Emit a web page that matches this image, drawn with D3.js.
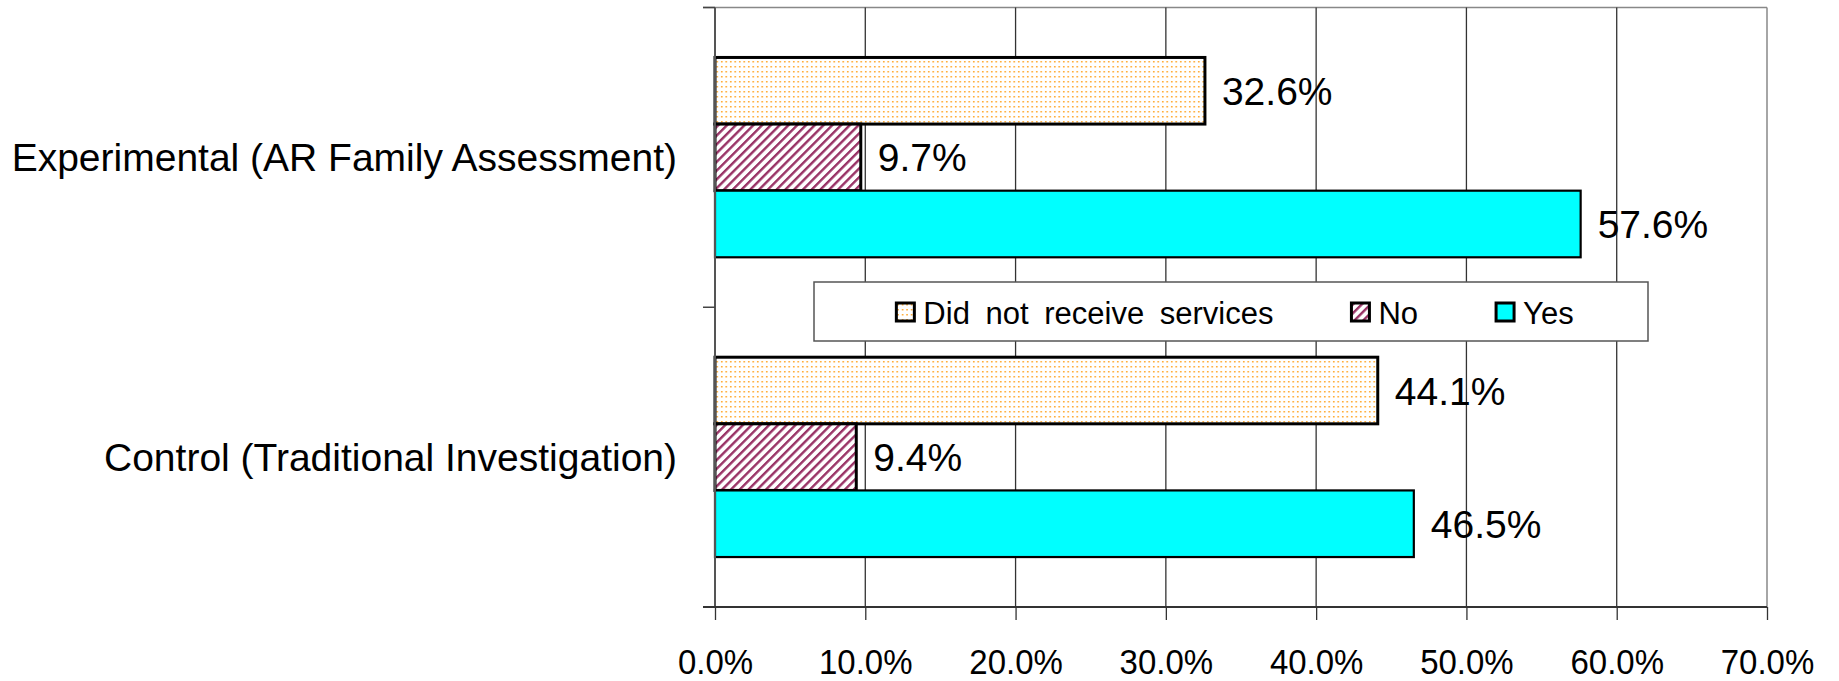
<!DOCTYPE html>
<html>
<head>
<meta charset="utf-8">
<script src="https://cdn.jsdelivr.net/npm/d3@7/dist/d3.min.js"></script>
<style>
  html, body { margin: 0; padding: 0; background: #fff; }
  svg { display: block; font-family: "Liberation Sans", Arial, sans-serif; }
</style>
</head>
<body>
<svg id="chart" width="1839" height="681"></svg>
<script>
// Groups shown on the category axis (top to bottom)
const categories = ["Experimental (AR Family Assessment)", "Control (Traditional Investigation)"];
// Response series, in drawing order within each group
const seriesNames = ["Did not receive services", "No", "Yes"];
// Percentages per group for each response
const didNotReceive = [32.6, 44.1];
const noValues = [9.7, 9.4];
const yesValues = [57.6, 46.5];
// Value-axis ticks
const tickValues = [0, 10, 20, 30, 40, 50, 60, 70];

const seriesValues = [didNotReceive, noValues, yesValues];

const svg = d3.select("#chart");
const plot = { left: 715, right: 1767, top: 7.5, bottom: 607 };

// Patterns for the bar fills
const defs = svg.append("defs");
const dots = defs.append("pattern")
  .attr("id", "dots").attr("patternUnits", "userSpaceOnUse")
  .attr("width", 4.5).attr("height", 5);
dots.append("rect").attr("width", 4.5).attr("height", 5).attr("fill", "#fff");
dots.append("rect").attr("x", 1).attr("y", 1).attr("width", 1.5).attr("height", 1.5)
  .attr("fill", "#ff9c10").attr("fill-opacity", 0.95);

const hatch = defs.append("pattern")
  .attr("id", "hatch").attr("patternUnits", "userSpaceOnUse")
  .attr("width", 6.2).attr("height", 6.2)
  .attr("patternTransform", "rotate(45)");
hatch.append("rect").attr("width", 6.2).attr("height", 6.2).attr("fill", "#fff");
hatch.append("rect").attr("x", 0).attr("y", 0).attr("width", 2.4).attr("height", 6.2)
  .attr("fill", "#993366");

const fills = ["url(#dots)", "url(#hatch)", "#00ffff"];
const strokeWidths = [3, 3, 2.2];

// Scales
const x = d3.scaleLinear().domain([0, 70]).range([plot.left, plot.right]);
const y0 = d3.scaleBand().domain(categories).range([plot.top, plot.bottom]).padding(0);
const y1 = d3.scaleBand().domain(seriesNames).range([0, y0.bandwidth()])
  .paddingInner(0).paddingOuter(0.75);

// Plot frame: top and right borders
svg.append("line")
  .attr("x1", plot.left - 12).attr("x2", plot.right)
  .attr("y1", plot.top).attr("y2", plot.top)
  .attr("stroke", "#888").attr("stroke-width", 1.5);
svg.append("line")
  .attr("x1", plot.right).attr("x2", plot.right)
  .attr("y1", plot.top).attr("y2", plot.bottom)
  .attr("stroke", "#888").attr("stroke-width", 1.5);

// Vertical gridlines
svg.append("g").selectAll("line")
  .data(tickValues.filter(t => t > 0 && t < 70))
  .join("line")
  .attr("x1", d => x(d)).attr("x2", d => x(d))
  .attr("y1", plot.top).attr("y2", plot.bottom)
  .attr("stroke", "#333").attr("stroke-width", 1.3);

// Bars
const rows = [];
categories.forEach((c, ci) => {
  seriesNames.forEach((s, si) => {
    rows.push({ cat: c, series: s, si, value: seriesValues[si][ci] });
  });
});

svg.append("g").selectAll("rect")
  .data(rows)
  .join("rect")
  .attr("x", x(0))
  .attr("y", d => y0(d.cat) + y1(d.series))
  .attr("width", d => x(d.value) - x(0))
  .attr("height", y1.bandwidth())
  .attr("fill", d => fills[d.si])
  .attr("stroke", "#000")
  .attr("stroke-width", d => strokeWidths[d.si]);

// Value labels
svg.append("g").selectAll("text")
  .data(rows)
  .join("text")
  .attr("x", d => x(d.value) + 17)
  .attr("y", d => y0(d.cat) + y1(d.series) + y1.bandwidth() / 2 + 14)
  .attr("font-size", 39)
  .attr("fill", "#000")
  .text(d => d.value.toFixed(1) + "%");

// Category axis line and ticks between groups
svg.append("line")
  .attr("x1", plot.left).attr("x2", plot.left)
  .attr("y1", plot.top).attr("y2", plot.bottom)
  .attr("stroke", "#555").attr("stroke-width", 2);
const boundaries = categories.map(c => y0(c)).concat([y0(categories[categories.length - 1]) + y0.bandwidth()]);
svg.append("g").selectAll("line")
  .data(boundaries)
  .join("line")
  .attr("x1", plot.left - 12).attr("x2", plot.left)
  .attr("y1", d => d).attr("y2", d => d)
  .attr("stroke", "#444").attr("stroke-width", 1.5);

// Category labels
svg.append("g").selectAll("text")
  .data(categories)
  .join("text")
  .attr("x", 677)
  .attr("y", d => y0(d) + y0.bandwidth() / 2 + 14)
  .attr("text-anchor", "end")
  .attr("font-size", 39)
  .attr("fill", "#000")
  .text(d => d);

// Value axis
const xAxis = d3.axisBottom(x)
  .tickValues(tickValues)
  .tickSize(13)
  .tickFormat(d => d.toFixed(1) + "%");
const xg = svg.append("g").attr("transform", `translate(0,${plot.bottom})`).call(xAxis);
xg.select(".domain")
  .attr("d", `M${plot.left - 12},0H${plot.right}`)
  .attr("stroke", "#333").attr("stroke-width", 2);
xg.selectAll(".tick line").attr("stroke", "#333").attr("stroke-width", 1.3);
xg.selectAll(".tick text")
  .attr("y", 0).attr("dy", 0)
  .attr("transform", "translate(0,66.5) scale(1,1.08)")
  .attr("font-size", 33)
  .attr("font-family", "'Liberation Sans', Arial, sans-serif")
  .attr("fill", "#000");

// Legend
const legendBox = { x: 814, y: 282, w: 834, h: 59 };
const lg = svg.append("g");
lg.append("rect")
  .attr("x", legendBox.x).attr("y", legendBox.y)
  .attr("width", legendBox.w).attr("height", legendBox.h)
  .attr("fill", "#fff").attr("stroke", "#555").attr("stroke-width", 1.5);

const items = lg.selectAll("g.item").data(seriesNames).join("g").attr("class", "item");
items.append("rect")
  .attr("x", 0).attr("y", -10).attr("width", 18).attr("height", 18)
  .attr("fill", (d, i) => fills[i])
  .attr("stroke", "#000").attr("stroke-width", 3);
items.append("text")
  .attr("x", 27).attr("y", 11)
  .attr("font-size", 31)
  .attr("word-spacing", 7)
  .attr("fill", "#000")
  .text(d => d);

// Lay the items out in a row, centered in the box
const gap = 78;
const widths = [];
items.each(function () { widths.push(27 + this.querySelector("text").getComputedTextLength()); });
const total = d3.sum(widths) + gap * (widths.length - 1);
let cx = legendBox.x + (legendBox.w - total) / 2 + 4;
items.attr("transform", (d, i) => {
  const t = `translate(${cx},${legendBox.y + legendBox.h / 2 + 1.5})`;
  cx += widths[i] + gap;
  return t;
});
</script>
</body>
</html>
